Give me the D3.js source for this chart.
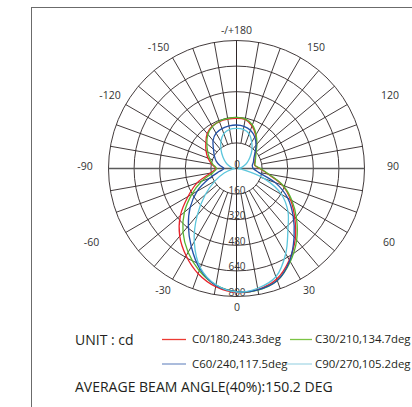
<!DOCTYPE html>
<html><head><meta charset="utf-8">
<script src="https://cdn.jsdelivr.net/npm/d3@7"></script>
<style>html,body{margin:0;padding:0;background:#fff;}svg{display:block;}</style>
</head><body>
<svg id="chart" width="412" height="407"></svg>
<script>
// ---- data ----
const angles = [-180,-170,-160,-150,-140,-130,-120,-110,-100,-90,-80,-70,-60,-50,-40,-30,-20,-10,0,10,20,30,40,50,60,70,80,90,100,110,120,130,140,150,160,170,180];
const c0_180   = [314,313,312,305,285,250,220,190,158,130,165,262,350,458,552,630,700,750,775,768,735,660,572,475,390,305,200,145,115,122,135,155,195,240,283,311,314];
const c30_210  = [320,318,314,302,278,242,208,178,150,125,150,232,323,425,520,605,680,740,770,772,745,672,585,490,400,310,205,150,118,125,138,160,198,245,290,315,320];
const c60_240  = [272,270,265,255,228,188,160,135,105,78,110,180,285,378,468,565,668,742,770,770,745,665,560,462,370,258,140,105,100,112,125,150,190,228,255,268,272];
const c90_270  = [251,248,232,195,150,110,78,50,28,12,30,82,155,255,382,528,660,738,772,760,720,615,500,420,325,185,40,12,28,50,78,110,150,190,230,248,251];
const seriesNames = ["C0/180,243.3deg","C30/210,134.7deg","C60/240,117.5deg","C90/270,105.2deg"];
const ringValues = [0,160,320,480,640,800];
const angleTicks = [-150,-120,-90,-60,-30,0,30,60,90,120,150,180];
const angleTickLabels = ["-150","-120","-90","-60","-30","0","30","60","90","120","150","-/+180"];
const unitLabel = "UNIT : cd";
const beamLabel = "AVERAGE BEAM ANGLE(40%):150.2 DEG";

// ---- layout / styles ----
// label anchor offsets from chart centre (x, baseline y), same order as angleTicks
const tickLabelOffsets = [[-78,-117.5],[-126.5,-69.5],[-151.5,1],[-145,77.5],[-73.5,125],[0.5,142.5],[72.5,125],[152.5,77.5],[156.5,1],[153.5,-69.5],[79.5,-117.5],[0,-135]];
const curveColors = ["#e8232b","#58b530","#2150a6","#5cc6dc"];
const legendColors = ["#ec3b33","#7cc444","#7e98c9","#a9d9e7"];
const gridColor = "#2e2526";
const font = "'Open Sans', 'Noto Sans', sans-serif";

const svg = d3.select("#chart");
svg.append("rect").attr("x",31.5).attr("y",7.5).attr("width",420).attr("height",430)
  .attr("fill","#fff").attr("stroke","#6b6b6b").attr("stroke-width",1);

const cx = 236.5, cy = 168.5, R = 128;
const r = d3.scaleLinear().domain([0,800]).range([0,R]);
// theta: 0 at bottom, +90 at right, 180 at top  => d3 radial angle = PI - theta
const a = d3.scaleLinear().domain([-180,180]).range([2*Math.PI, 0]);
const g = svg.append("g").attr("transform",`translate(${cx},${cy})`);

// grid rings
g.selectAll("circle.ring").data(ringValues.slice(1)).join("circle")
  .attr("r", d=>r(d)).attr("fill","none").attr("stroke",gridColor).attr("stroke-width",0.9);
// spokes every 10 deg from first ring
const spokeAngles = angles.slice(0,-1);
g.selectAll("line.spoke").data(spokeAngles).join("line")
  .attr("x1", d=>r(ringValues[1])*Math.sin(a(d))).attr("y1", d=>-r(ringValues[1])*Math.cos(a(d)))
  .attr("x2", d=>r(800)*Math.sin(a(d))).attr("y2", d=>-r(800)*Math.cos(a(d)))
  .attr("stroke",gridColor).attr("stroke-width",0.9);
// main axes through center
g.append("line").attr("x1",-R).attr("x2",R).attr("y1",0).attr("y2",0).attr("stroke","#5a5a5a").attr("stroke-width",1.4);
g.append("line").attr("x1",0).attr("x2",0).attr("y1",-R).attr("y2",R).attr("stroke",gridColor).attr("stroke-width",0.9);

// ring labels
g.selectAll("text.rl").data(ringValues).join("text")
  .attr("x",0.5).attr("y", d=>r(d)-0.5).attr("text-anchor","middle")
  .attr("font-family",font).attr("font-size",10).attr("fill","#3a3a3a").text(d=>d);

// curves
const series = [c0_180,c30_210,c60_240,c90_270];
const line = d3.lineRadial().angle(d=>a(d[0])).radius(d=>r(d[1])).curve(d3.curveCatmullRomClosed.alpha(0.5));
series.forEach((vals,i)=>{
  const pts = angles.slice(0,-1).map((ang,k)=>[ang, vals[k]]);
  g.append("path").attr("d", line(pts)).attr("fill","none")
    .attr("stroke",curveColors[i]).attr("stroke-width",1.3);
});

// angle labels
angleTicks.forEach((t,i)=>{
  const o = tickLabelOffsets[i];
  g.append("text").attr("x",o[0]).attr("y",o[1]).attr("text-anchor","middle")
    .attr("font-family",font).attr("font-size",10.5).attr("fill","#333").text(angleTickLabels[i]);
});

// legend
svg.append("text").attr("x",75).attr("y",345).attr("font-family",font).attr("font-size",14)
  .attr("fill","#231f20").text(unitLabel);
const legPos = [[162,186,339.5,192,343],[290,312,339.5,315,343],[162,186,364,192,367.5],[287,312,364,315,367.5]];
seriesNames.forEach((nm,i)=>{
  const p = legPos[i];
  svg.append("line").attr("x1",p[0]).attr("x2",p[1]).attr("y1",p[2]).attr("y2",p[2])
    .attr("stroke",legendColors[i]).attr("stroke-width",1.3);
  svg.append("text").attr("x",p[3]).attr("y",p[4]).attr("font-family",font).attr("font-size",11.4)
    .attr("fill","#231f20").text(nm);
});
svg.append("text").attr("x",75).attr("y",392).attr("font-family",font).attr("font-size",14)
  .attr("fill","#231f20").text(beamLabel);
</script>
</body></html>
